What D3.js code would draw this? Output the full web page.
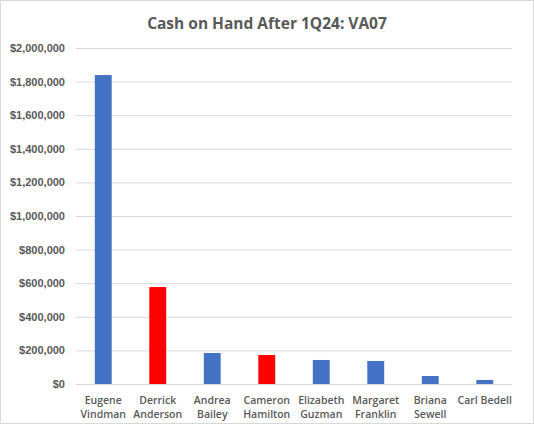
<!DOCTYPE html>
<html>
<head>
<meta charset="utf-8">
<script src="https://cdn.jsdelivr.net/npm/d3@7"></script>
<style>
  body { margin: 0; background: #fff; }
  svg { font-family: "Open Sans", "Noto Sans", sans-serif; }
</style>
</head>
<body>
<div id="chart"></div>
<script>
const candidates = ["Eugene Vindman", "Derrick Anderson", "Andrea Bailey", "Cameron Hamilton",
    "Elizabeth Guzman", "Margaret Franklin", "Briana Sewell", "Carl Bedell"];
const cashOnHand = [1839000, 577000, 184500, 172500, 143000, 137000, 47500, 24000];
const party = ["D", "R", "D", "R", "D", "D", "D", "D"];
const yTicks = [0, 200000, 400000, 600000, 800000, 1000000, 1200000, 1400000, 1600000, 1800000, 2000000];
const labelLines = [["Eugene", "Vindman"], ["Derrick", "Anderson"], ["Andrea", "Bailey"], ["Cameron", "Hamilton"],
    ["Elizabeth", "Guzman"], ["Margaret", "Franklin"], ["Briana", "Sewell"], ["Carl Bedell"]];

const width = 534, height = 424;
const margin = { top: 48, right: 22, bottom: 40, left: 76 };

const svg = d3.select("#chart")
    .append("svg")
    .attr("width", width)
    .attr("height", height);

// chart border
svg.append("rect")
    .attr("x", 0.5).attr("y", 0.5)
    .attr("width", width - 1).attr("height", height - 1)
    .attr("fill", "none")
    .attr("stroke", "#d9d9d9");

const x = d3.scaleBand()
    .domain(candidates)
    .range([margin.left, width - margin.right])
    .paddingInner(0.69)
    .paddingOuter(0.345);

const y = d3.scaleLinear()
    .domain([0, 2000000])
    .range([height - margin.bottom, margin.top]);

// gridlines + y labels
const yAxis = svg.append("g")
    .attr("transform", `translate(${margin.left},0)`)
    .call(d3.axisLeft(y)
        .tickValues(yTicks)
        .tickSize(-(width - margin.left - margin.right))
        .tickPadding(11)
        .tickFormat(d => "$" + d3.format(",")(d)));
yAxis.select(".domain").remove();
yAxis.selectAll("line").attr("stroke", "#d9d9d9");
yAxis.selectAll("text")
    .attr("fill", "#595959")
    .style("font-size", "11px")
    .style("font-weight", "600");

// bars
svg.append("g")
    .selectAll("rect")
    .data(candidates)
    .join("rect")
    .attr("x", d => x(d))
    .attr("width", x.bandwidth())
    .attr("y", (d, i) => y(cashOnHand[i]))
    .attr("height", (d, i) => y(0) - y(cashOnHand[i]))
    .attr("fill", (d, i) => party[i] === "R" ? "#ff0000" : "#4472c4");

// category labels
const xl = svg.append("g")
    .selectAll("text")
    .data(candidates)
    .join("text")
    .attr("x", d => x(d) + x.bandwidth() / 2)
    .attr("y", 404)
    .attr("text-anchor", "middle")
    .attr("fill", "#595959")
    .style("font-size", "10.5px")
    .style("font-weight", "600");
xl.selectAll("tspan")
    .data((d, i) => labelLines[i])
    .join("tspan")
    .attr("x", function () { return d3.select(this.parentNode).attr("x"); })
    .attr("dy", (d, i) => i === 0 ? 0 : 14)
    .text(d => d);

// title
svg.append("text")
    .attr("x", width / 2)
    .attr("y", 29)
    .attr("text-anchor", "middle")
    .attr("fill", "#595959")
    .style("font-size", "15.5px")
    .style("font-weight", "700")
    .text("Cash on Hand After 1Q24: VA07");
</script>
</body>
</html>
